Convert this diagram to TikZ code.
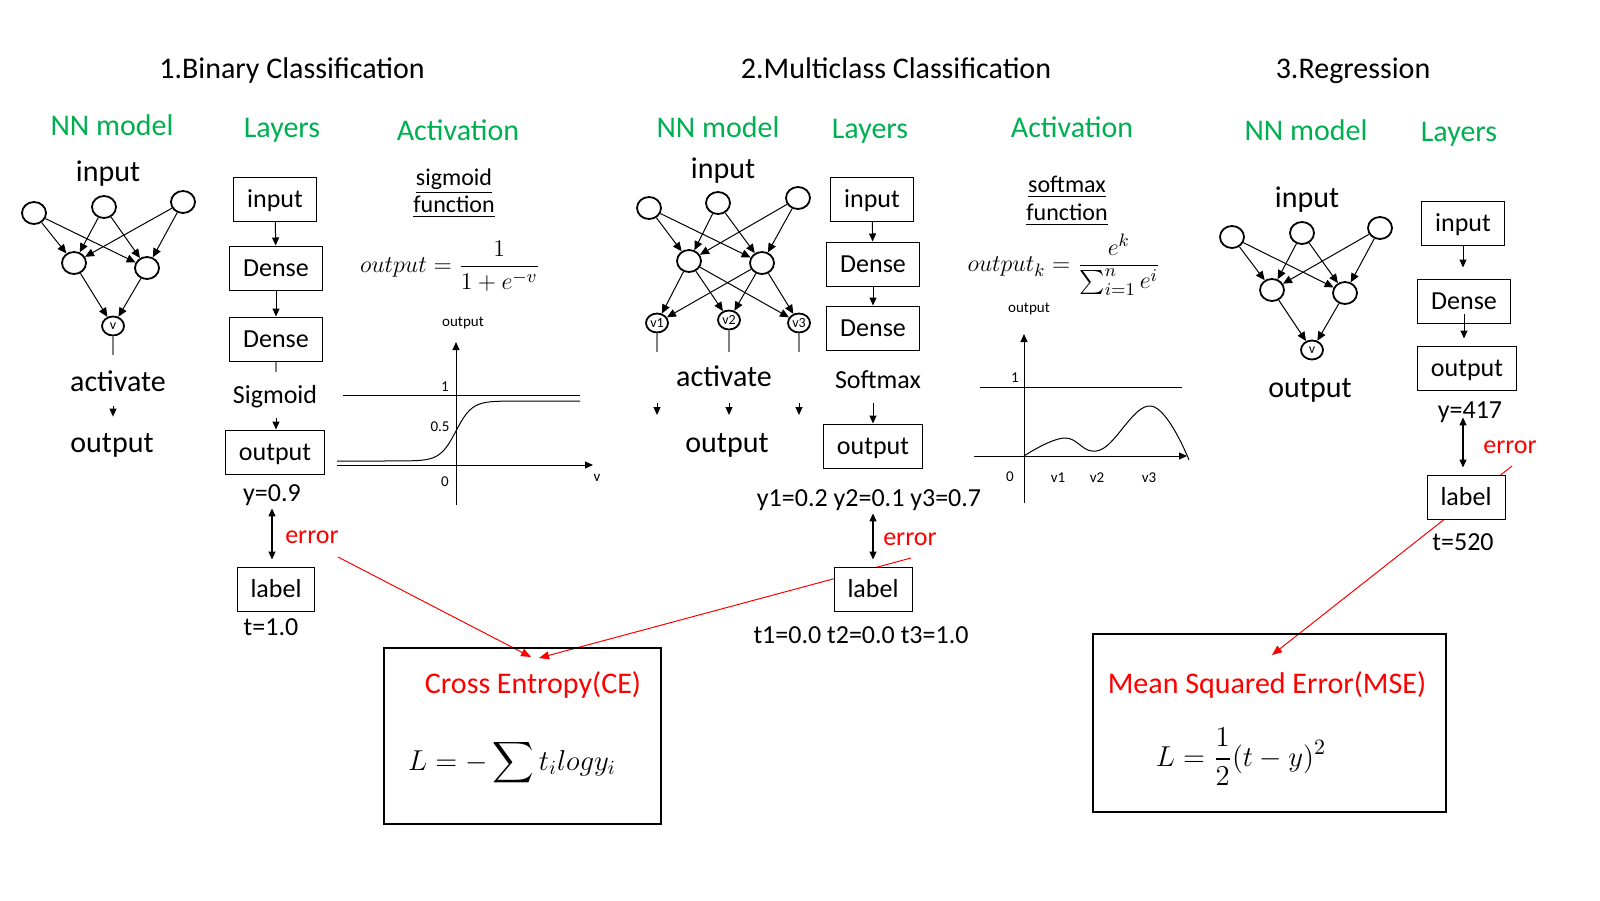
\documentclass[tikz,border=0pt]{standalone}
\usepackage{amsmath}
\usepackage{fontspec}
\setmainfont{Carlito}
\usetikzlibrary{positioning,arrows.meta,shapes.geometric}
\definecolor{ngreen}{RGB}{0,176,80}
\definecolor{nred}{RGB}{255,0,0}
\newcommand{\setfs}[1]{\fontsize{#1}{#1}\selectfont}

\begin{document}
\begin{tikzpicture}[x=0.5pt,y=-0.5pt,
  title/.style={font=\setfs{15},inner sep=1pt,text height=12.5pt,text depth=2.5pt},
  hdr/.style={title,text=ngreen},
  mid/.style={font=\setfs{13},inner sep=1pt,text height=10.75pt,text depth=2.25pt},
  tiny/.style={font=\setfs{7.5},inner sep=0.5pt},
  box/.style={mid,draw,fill=white,line width=0.5pt,inner xsep=6.75pt,inner ysep=1pt,minimum height=22pt},
  neuron/.style={draw,ellipse,line width=0.9pt,inner sep=0pt,minimum width=12pt,minimum height=11pt},
  vnode/.style={neuron,minimum width=11pt,minimum height=9.5pt,font=\setfs{7}},
  edge/.style={-{Triangle[length=4.5pt,width=4pt]},line width=0.5pt},
  arr/.style={-{Triangle[length=4pt,width=3.5pt]},line width=0.5pt},
  stub/.style={gray,line width=0.6pt},
  dbl/.style={{Triangle[length=4pt,width=3.5pt]}-{Triangle[length=4pt,width=3.5pt]},line width=0.6pt},
  errarr/.style={nred,line width=0.5pt,-{Triangle[length=5pt,width=4pt]}},
  lossbox/.style={draw,line width=1pt}]
\useasboundingbox (0,0) rectangle (1600,900);

% error connectors first, the label boxes sit on top of them
\coordinate (b-e0) at (338,557);
\coordinate (m-e0) at (911,558);
\coordinate (r-e0) at (1512,466);
\coordinate (ce-tip1) at (531,657);
\coordinate (ce-tip2) at (539,658);
\coordinate (mse-tip) at (1272,655);
\draw[errarr] (b-e0) -- (ce-tip1);
\draw[errarr] (m-e0) -- (ce-tip2);
\draw[errarr] (r-e0) -- (mse-tip);

% titles
\node[title] (t-bin) at (292,68) {1.Binary Classification};
\node[title] (t-mul) at (896,68) {2.Multiclass Classification};
\node[title] (t-reg) at (1353,68) {3.Regression};
\node[hdr] (b-hnn) at (112,125) {NN model};
\node[hdr] (b-hly) at (282,127) {Layers};
\node[hdr] (b-hac) at (458,130) {Activation};
\node[hdr] (m-hnn) at (718,127) {NN model};
\node[hdr] (m-hly) at (870,128) {Layers};
\node[hdr] (m-hac) at (1072,127) {Activation};
\node[hdr] (r-hnn) at (1306,130) {NN model};
\node[hdr] (r-hly) at (1459,131) {Layers};

% binary: network
\node[title] (b-inl) at (108,171) {input};
\node[neuron] (b-i1) at (34,213) {};
\node[neuron] (b-i2) at (104,207) {};
\node[neuron] (b-i3) at (183,202) {};
\node[neuron] (b-h1) at (74,263) {};
\node[neuron] (b-h2) at (147,268) {};
\node[vnode] (b-v) at (113,326) {v};
\draw[edge] (b-i1) -- (b-h1); \draw[edge] (b-i1) -- (b-h2);
\draw[edge] (b-i2) -- (b-h1); \draw[edge] (b-i2) -- (b-h2);
\draw[edge] (b-i3) -- (b-h1); \draw[edge] (b-i3) -- (b-h2);
\draw[edge] (b-h1) -- (b-v); \draw[edge] (b-h2) -- (b-v);
\node[title] (b-act) at (118,381) {activate};
\node[title] (b-out) at (112,442) {output};
\draw[stub,shorten >=4.5pt] (b-v.south) -- (b-v.south |- b-act.north);
\draw[arr,shorten <=4pt,shorten >=4pt] (b-v.south |- b-act.south) -- (b-v.south |- b-out.north);

% binary: layers
\node[box] (b-lin) at (275,199) {input};
\node[box] (b-d1) at (276,268) {Dense};
\node[box] (b-d2) at (276,339) {Dense};
\node[mid] (b-sig) at (275,395) {Sigmoid};
\node[box] (b-lout) at (275,452) {output};
\node[mid] (b-y) at (272,493) {y=0.9};
\node[mid,text=nred] (b-err) at (312,535) {error};
\node[box] (b-lab) at (276,589) {label};
\node[mid] (b-t) at (271,627) {t=1.0};
\draw[arr] (b-lin) -- (b-d1);
\draw[arr] (b-d1) -- (b-d2);
\draw[stub,shorten >=4pt] (b-d2) -- (b-d2 |- b-sig.north);
\draw[arr,shorten <=4pt] (b-d2 |- b-sig.south) -- (b-d2 |- b-lout.north);
\draw[dbl,shorten >=3.5pt] (b-y.south) -- (b-y.south |- b-lab.north);

% binary: sigmoid
\node[align=center,font=\fontsize{12}{12.5}\selectfont] (sig-name) at (454,193) {\underline{sigmoid}\\\underline{function}};
\node[font=\setfs{12.5}] (sig-f) at (450,266) {$\displaystyle output=\frac{1}{1+e^{-v}}$};
\draw[arr] (456,505) -- (456,342);
\draw[arr] (337,465) -- (593,465);
\draw[line width=0.5pt] (343,395) -- (580,395);
\draw[line width=0.5pt] plot[domain=337:580,samples=80,smooth] (\x,{461-60/(1+exp(min(9,max(-9,-(\x-456)/8))))});
\node[tiny] (sig-out) at (463,323) {output};
\node[tiny] (sig-one) at (445,387) {1};
\node[tiny] (sig-half) at (440,427) {0.5};
\node[tiny] (sig-zero) at (445,482) {0};
\node[tiny] (sig-v) at (597,478) {v};

% multiclass: network
\node[title] (m-inl) at (723,168) {input};
\node[neuron] (m-i1) at (649,208) {};
\node[neuron] (m-i2) at (718,203) {};
\node[neuron] (m-i3) at (798,198) {};
\node[neuron] (m-h1) at (689,261) {};
\node[neuron] (m-h2) at (762,263) {};
\node[vnode] (m-v1) at (657,323) {v1};
\node[vnode] (m-v2) at (729,320) {v2};
\node[vnode] (m-v3) at (799,323) {v3};
\draw[edge] (m-i1) -- (m-h1); \draw[edge] (m-i1) -- (m-h2);
\draw[edge] (m-i2) -- (m-h1); \draw[edge] (m-i2) -- (m-h2);
\draw[edge] (m-i3) -- (m-h1); \draw[edge] (m-i3) -- (m-h2);
\draw[edge] (m-h1) -- (m-v1); \draw[edge] (m-h1) -- (m-v2); \draw[edge] (m-h1) -- (m-v3);
\draw[edge] (m-h2) -- (m-v1); \draw[edge] (m-h2) -- (m-v2); \draw[edge] (m-h2) -- (m-v3);
\node[title] (m-act) at (724,376) {activate};
\node[title] (m-out) at (727,442) {output};
\coordinate (m-s1) at (657,352); \coordinate (m-s2) at (729,352); \coordinate (m-s3) at (799,352);
\coordinate (m-a1) at (657,403); \coordinate (m-b1) at (657,415);
\coordinate (m-a2) at (729,403); \coordinate (m-b2) at (729,415);
\coordinate (m-a3) at (799,403); \coordinate (m-b3) at (799,415);
\draw[stub] (m-v1) -- (m-s1); \draw[stub] (m-v2) -- (m-s2); \draw[stub] (m-v3) -- (m-s3);
\draw[arr] (m-a1) -- (m-b1); \draw[arr] (m-a2) -- (m-b2); \draw[arr] (m-a3) -- (m-b3);

% multiclass: layers
\node[box] (m-lin) at (872,199) {input};
\node[box] (m-d1) at (873,264) {Dense};
\node[box] (m-d2) at (873,328) {Dense};
\node[mid] (m-soft) at (878,380) {Softmax};
\node[box] (m-lout) at (873,446) {output};
\node[mid] (m-y) at (869,498) {y1=0.2 y2=0.1 y3=0.7};
\node[mid,text=nred] (m-err) at (910,537) {error};
\node[box] (m-lab) at (873,589) {label};
\node[mid] (m-t) at (861,635) {t1=0.0 t2=0.0 t3=1.0};
\draw[arr] (m-lin) -- (m-d1);
\draw[arr] (m-d1) -- (m-d2);
\draw[arr,shorten <=4pt] (m-d2 |- m-soft.south) -- (m-lout);
\draw[dbl,shorten >=3.5pt] (m-lab.north |- m-y.south) -- (m-lab.north);

% multiclass: softmax
\node[align=center,font=\fontsize{12}{14}\selectfont] (soft-name) at (1067,201) {\underline{softmax}\\\underline{function}};
\node[font=\setfs{12.5}] (soft-f) at (1064,265) {$\displaystyle output_k=\frac{e^k}{\sum_{i=1}^{n}e^i}$};
\draw[arr] (1024,503) -- (1024,334);
\draw[arr] (974,456) -- (1187,456);
\draw[line width=0.5pt] (980,387) -- (1182,387);
\draw[line width=0.5pt] plot[smooth,tension=0.7] coordinates {(1024,456) (1064,438) (1100,450) (1151,406) (1189,460)};
\node[tiny] (soft-out) at (1029,309) {output};
\node[tiny] (soft-one) at (1015,378) {1};
\node[tiny] (soft-zero) at (1010,477) {0};
\node[tiny] (soft-v1) at (1058,478) {v1};
\node[tiny] (soft-v2) at (1097,478) {v2};
\node[tiny] (soft-v3) at (1149,478) {v3};

% regression: network
\node[title] (r-inl) at (1307,197) {input};
\node[neuron] (r-i1) at (1232,237) {};
\node[neuron] (r-i2) at (1302,233) {};
\node[neuron] (r-i3) at (1380,228) {};
\node[neuron] (r-h1) at (1272,290) {};
\node[neuron] (r-h2) at (1345,293) {};
\node[vnode] (r-v) at (1312,350) {v};
\draw[edge] (r-i1) -- (r-h1); \draw[edge] (r-i1) -- (r-h2);
\draw[edge] (r-i2) -- (r-h1); \draw[edge] (r-i2) -- (r-h2);
\draw[edge] (r-i3) -- (r-h1); \draw[edge] (r-i3) -- (r-h2);
\draw[edge] (r-h1) -- (r-v); \draw[edge] (r-h2) -- (r-v);
\node[title] (r-out) at (1310,387) {output};

% regression: layers
\node[box] (r-lin) at (1463,223) {input};
\node[box] (r-d1) at (1464,301) {Dense};
\node[box] (r-lout) at (1467,368) {output};
\node[mid] (r-y) at (1470,410) {y=417};
\node[mid,text=nred] (r-err) at (1510,445) {error};
\node[box] (r-lab) at (1466,497) {label};
\node[mid] (r-t) at (1463,542) {t=520};
\draw[arr,shorten >=5.5pt] (r-lin) -- (r-lin |- r-d1.north);
\draw[arr,shorten <=-5pt,shorten >=3.5pt] (r-d1.south) -- (r-d1 |- r-lout.north);
\draw[dbl,shorten <=-4pt,shorten >=3.5pt] (r-lin.south |- r-y.south) -- (r-lin.south |- r-lab.north);

% loss functions
\node[lossbox,minimum width=138.5pt,minimum height=88pt] (ce) at (522.5,736) {};
\node[title,text=nred] (ce-name) at (533,683) {Cross Entropy(CE)};
\node[font=\setfs{14.5}] (ce-f) at (512,763) {$\displaystyle L=-\sum t_i log y_i$};
\node[lossbox,minimum width=176.5pt,minimum height=89pt] (mse) at (1269.5,723) {};
\node[title,text=nred] (mse-name) at (1267,683) {Mean Squared Error(MSE)};
\node[font=\setfs{15}] (mse-f) at (1241,757) {$\displaystyle L=\frac{1}{2}(t-y)^2$};
\end{tikzpicture}
\end{document}
